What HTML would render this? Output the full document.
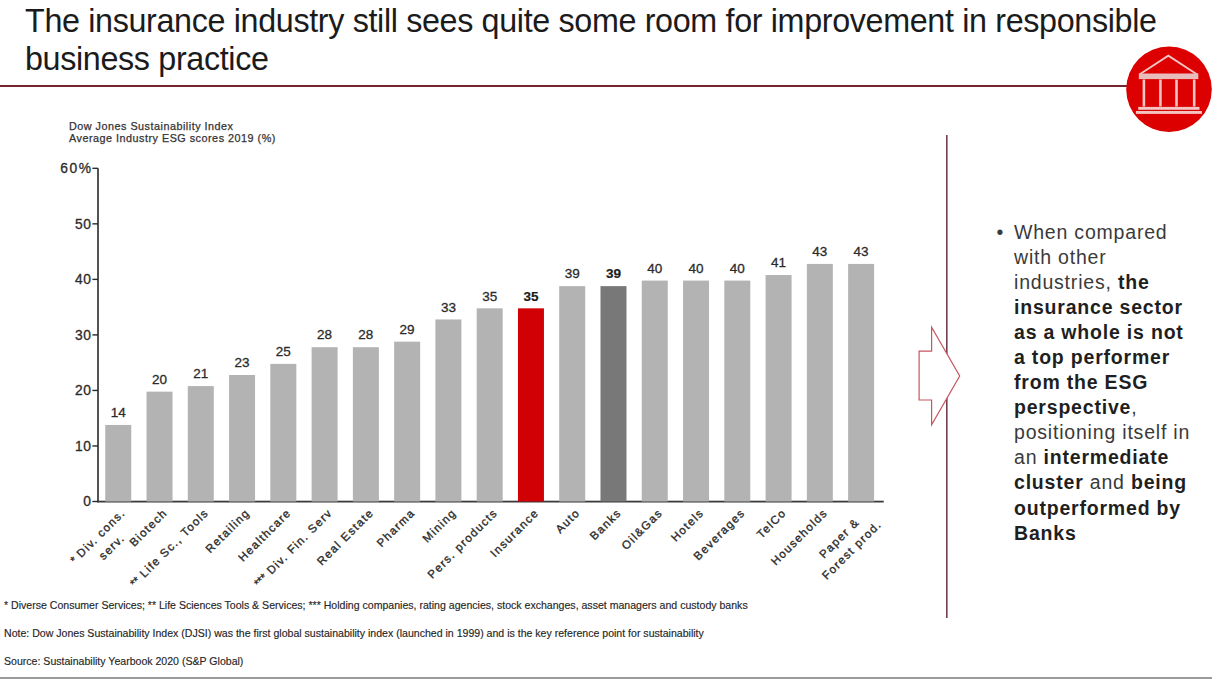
<!DOCTYPE html>
<html><head><meta charset="utf-8">
<style>
html,body{margin:0;padding:0;background:#fff;}
body{width:1220px;height:679px;position:relative;overflow:hidden;font-family:"Liberation Sans",sans-serif;}
.abs{position:absolute;}
#title{left:25px;top:1.5px;font-size:32.3px;letter-spacing:-0.35px;line-height:38px;color:#1b1b1b;white-space:nowrap;}
#rule{left:0;top:85px;width:1130px;height:2.4px;background:#76252f;}
#sub{left:69px;top:119.7px;font-size:10.8px;line-height:12.7px;color:#333;-webkit-text-stroke:0.25px #333;letter-spacing:0.5px;white-space:nowrap;}
svg text{font-family:"Liberation Sans",sans-serif;}
.yt{font-size:13.8px;fill:#2b2b2b;letter-spacing:0.6px;stroke:#2b2b2b;stroke-width:0.3px;}
.vl{font-size:13.5px;fill:#2b2b2b;stroke:#2b2b2b;stroke-width:0.3px;}
.vl.b{font-weight:bold;stroke-width:0.2px;fill:#1a1a1a;}
.xl{font-size:11.5px;fill:#2b2b2b;letter-spacing:1.36px;stroke:#2b2b2b;stroke-width:0.35px;}
#vline{left:946px;top:135px;width:1.6px;height:483px;background:#7d4450;}
#dot{left:996.5px;top:220px;font-size:19.5px;line-height:25.05px;color:#3a3a3a;}
#bullet{left:1014px;top:220px;letter-spacing:0.8px;font-size:19.5px;line-height:25.05px;color:#3a3a3a;white-space:nowrap;}
#bullet b{color:#1f1f1f;}
.fn{left:4px;font-size:10.57px;color:#262626;-webkit-text-stroke:0.15px #262626;white-space:nowrap;}
#bottom{left:0;top:677px;width:1212px;height:2px;background:#9a9a9a;}
</style></head><body>
<div id="title" class="abs">The insurance industry still sees quite some room for improvement in responsible<br>business practice</div>
<div id="rule" class="abs"></div>
<div id="sub" class="abs">Dow Jones Sustainability Index<br>Average Industry ESG scores 2019 (%)</div>
<svg class="abs" style="left:0;top:0" width="1220" height="679" viewBox="0 0 1220 679">
<rect x="97.2" y="168.3" width="1.6" height="334.00" fill="#2a2a2a"/>
<rect x="97.2" y="500.70" width="786.50" height="1.8" fill="#3a3a3a"/>
<rect x="92.4" y="500.80" width="5.6" height="1.4" fill="#2a2a2a"/>
<text x="91.6" y="506.40" text-anchor="end" class="yt">0</text>
<rect x="92.4" y="445.27" width="5.6" height="1.4" fill="#2a2a2a"/>
<text x="91.6" y="450.87" text-anchor="end" class="yt">10</text>
<rect x="92.4" y="389.74" width="5.6" height="1.4" fill="#2a2a2a"/>
<text x="91.6" y="395.34" text-anchor="end" class="yt">20</text>
<rect x="92.4" y="334.21" width="5.6" height="1.4" fill="#2a2a2a"/>
<text x="91.6" y="339.81" text-anchor="end" class="yt">30</text>
<rect x="92.4" y="278.68" width="5.6" height="1.4" fill="#2a2a2a"/>
<text x="91.6" y="284.28" text-anchor="end" class="yt">40</text>
<rect x="92.4" y="223.15" width="5.6" height="1.4" fill="#2a2a2a"/>
<text x="91.6" y="228.75" text-anchor="end" class="yt">50</text>
<rect x="92.4" y="167.62" width="5.6" height="1.4" fill="#2a2a2a"/>
<text x="92.6" y="173.22" text-anchor="end" class="yt" style="letter-spacing:1.6px">60%</text>
<rect x="105.25" y="424.96" width="26" height="76.54" fill="#b3b3b3"/>
<text x="118.25" y="417.16" text-anchor="middle" class="vl">14</text>
<g transform="translate(126.75,513.4) rotate(-45)"><text x="-36.7" y="-0.5" text-anchor="middle" class="xl"><tspan style='letter-spacing:0'>*</tspan> Div. cons.</text><text x="-34.3" y="17" text-anchor="middle" class="xl">serv.</text></g>
<rect x="146.52" y="391.64" width="26" height="109.86" fill="#b3b3b3"/>
<text x="159.52" y="383.84" text-anchor="middle" class="vl">20</text>
<text transform="translate(168.02,513.4) rotate(-45)" text-anchor="end" class="xl">Biotech</text>
<rect x="187.79" y="386.09" width="26" height="115.41" fill="#b3b3b3"/>
<text x="200.79" y="378.29" text-anchor="middle" class="vl">21</text>
<text transform="translate(209.29,513.4) rotate(-45)" text-anchor="end" class="xl"><tspan style='letter-spacing:0'>**</tspan> Life Sc., Tools</text>
<rect x="229.06" y="374.98" width="26" height="126.52" fill="#b3b3b3"/>
<text x="242.06" y="367.18" text-anchor="middle" class="vl">23</text>
<text transform="translate(250.56,513.4) rotate(-45)" text-anchor="end" class="xl">Retailing</text>
<rect x="270.33" y="363.88" width="26" height="137.62" fill="#b3b3b3"/>
<text x="283.33" y="356.07" text-anchor="middle" class="vl">25</text>
<text transform="translate(291.83,513.4) rotate(-45)" text-anchor="end" class="xl">Healthcare</text>
<rect x="311.60" y="347.22" width="26" height="154.28" fill="#b3b3b3"/>
<text x="324.60" y="339.42" text-anchor="middle" class="vl">28</text>
<text transform="translate(333.10,513.4) rotate(-45)" text-anchor="end" class="xl"><tspan style='letter-spacing:0'>***</tspan> Div. Fin. Serv</text>
<rect x="352.87" y="347.22" width="26" height="154.28" fill="#b3b3b3"/>
<text x="365.87" y="339.42" text-anchor="middle" class="vl">28</text>
<text transform="translate(374.37,513.4) rotate(-45)" text-anchor="end" class="xl">Real Estate</text>
<rect x="394.14" y="341.66" width="26" height="159.84" fill="#b3b3b3"/>
<text x="407.14" y="333.86" text-anchor="middle" class="vl">29</text>
<text transform="translate(415.64,513.4) rotate(-45)" text-anchor="end" class="xl">Pharma</text>
<rect x="435.41" y="319.45" width="26" height="182.05" fill="#b3b3b3"/>
<text x="448.41" y="311.65" text-anchor="middle" class="vl">33</text>
<text transform="translate(456.91,513.4) rotate(-45)" text-anchor="end" class="xl">Mining</text>
<rect x="476.68" y="308.34" width="26" height="193.16" fill="#b3b3b3"/>
<text x="489.68" y="300.54" text-anchor="middle" class="vl">35</text>
<text transform="translate(498.18,513.4) rotate(-45)" text-anchor="end" class="xl">Pers. products</text>
<rect x="517.95" y="308.34" width="26" height="193.16" fill="#d00005"/>
<text x="530.95" y="300.54" text-anchor="middle" class="vl b">35</text>
<text transform="translate(539.45,513.4) rotate(-45)" text-anchor="end" class="xl">Insurance</text>
<rect x="559.22" y="286.13" width="26" height="215.37" fill="#b3b3b3"/>
<text x="572.22" y="278.33" text-anchor="middle" class="vl">39</text>
<text transform="translate(580.72,513.4) rotate(-45)" text-anchor="end" class="xl">Auto</text>
<rect x="600.49" y="286.13" width="26" height="215.37" fill="#787878"/>
<text x="613.49" y="278.33" text-anchor="middle" class="vl b">39</text>
<text transform="translate(621.99,513.4) rotate(-45)" text-anchor="end" class="xl">Banks</text>
<rect x="641.76" y="280.58" width="26" height="220.92" fill="#b3b3b3"/>
<text x="654.76" y="272.78" text-anchor="middle" class="vl">40</text>
<text transform="translate(663.26,513.4) rotate(-45)" text-anchor="end" class="xl">Oil&amp;Gas</text>
<rect x="683.03" y="280.58" width="26" height="220.92" fill="#b3b3b3"/>
<text x="696.03" y="272.78" text-anchor="middle" class="vl">40</text>
<text transform="translate(704.53,513.4) rotate(-45)" text-anchor="end" class="xl">Hotels</text>
<rect x="724.30" y="280.58" width="26" height="220.92" fill="#b3b3b3"/>
<text x="737.30" y="272.78" text-anchor="middle" class="vl">40</text>
<text transform="translate(745.80,513.4) rotate(-45)" text-anchor="end" class="xl">Beverages</text>
<rect x="765.57" y="275.03" width="26" height="226.47" fill="#b3b3b3"/>
<text x="778.57" y="267.23" text-anchor="middle" class="vl">41</text>
<text transform="translate(787.07,513.4) rotate(-45)" text-anchor="end" class="xl">TelCo</text>
<rect x="806.84" y="263.92" width="26" height="237.58" fill="#b3b3b3"/>
<text x="819.84" y="256.12" text-anchor="middle" class="vl">43</text>
<text transform="translate(828.34,513.4) rotate(-45)" text-anchor="end" class="xl">Households</text>
<rect x="848.11" y="263.92" width="26" height="237.58" fill="#b3b3b3"/>
<text x="861.11" y="256.12" text-anchor="middle" class="vl">43</text>
<g transform="translate(869.61,513.4) rotate(-45)"><text x="-39" y="0" text-anchor="middle" class="xl">Paper &amp;</text><text x="-38.5" y="17" text-anchor="middle" class="xl">Forest prod.</text></g>
<circle cx="1169" cy="89.3" r="42.8" fill="#dc0000"/>
<polyline points="1139.4,74.5 1168.3,55.6 1197.2,74.5" fill="none" stroke="#f3c4c4" stroke-width="1.9"/>
<rect x="1138.8" y="73.5" width="59.5" height="5.6" fill="#e9bcbc"/>
<rect x="1142.6" y="79.5" width="2.6" height="27" fill="#f3c4c4"/>
<rect x="1159.1" y="79.5" width="2.6" height="27" fill="#f3c4c4"/>
<rect x="1175.2" y="79.5" width="2.6" height="27" fill="#f3c4c4"/>
<rect x="1192.9" y="79.5" width="2.6" height="27" fill="#f3c4c4"/>
<rect x="1138.2" y="106.9" width="61.3" height="2.9" fill="#f3c4c4"/>
<rect x="1135.9" y="111" width="66" height="2.9" fill="#f3c4c4"/>
<rect x="946" y="135" width="1.6" height="483" fill="#74404e"/>
<polygon points="919.1,351.1 931.6,351.1 931.6,327.2 959.7,376 931.6,424.8 931.6,400 919.1,400" fill="#fff" stroke="#c8545e" stroke-width="1.2"/>
</svg>
<div id="dot" class="abs">•</div><div id="bullet" class="abs">When compared<br>with other<br>industries, <b>the</b><br><b>insurance sector</b><br><b>as a whole is not</b><br><b>a top performer</b><br><b>from the ESG</b><br><b>perspective</b>,<br>positioning itself in<br>an <b>intermediate</b><br><b>cluster</b> and <b>being</b><br><b>outperformed by</b><br><b>Banks</b></div>
<div class="abs fn" style="top:599px">* Diverse Consumer Services; ** Life Sciences Tools &amp; Services; *** Holding companies, rating agencies, stock exchanges, asset managers and custody banks</div>
<div class="abs fn" style="top:627px">Note: Dow Jones Sustainability Index (DJSI) was the first global sustainability index (launched in 1999) and is the key reference point for sustainability</div>
<div class="abs fn" style="top:654.6px">Source: Sustainability Yearbook 2020 (S&amp;P Global)</div>
<div id="bottom" class="abs"></div>
</body></html>
